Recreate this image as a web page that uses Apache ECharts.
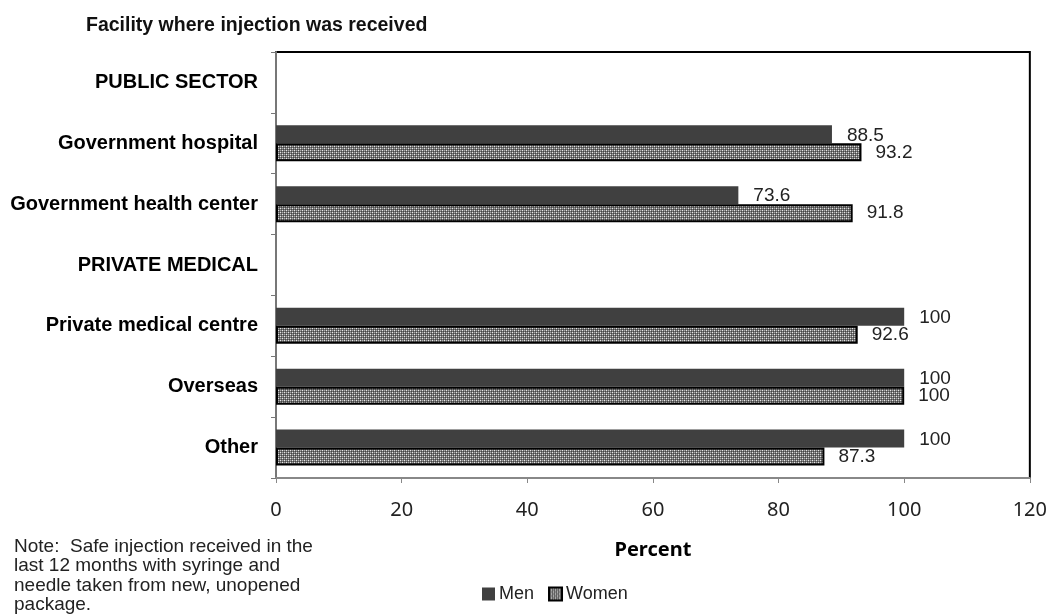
<!DOCTYPE html>
<html><head><meta charset="utf-8">
<script src="https://cdn.jsdelivr.net/npm/echarts@6/dist/echarts.min.js"></script>
<style>html,body{margin:0;padding:0;background:#fff}#c{width:1050px;height:615px}</style>
</head><body><div id="c"></div>
<script>
var categories = ['PUBLIC SECTOR','Government hospital','Government health center','PRIVATE MEDICAL','Private medical centre','Overseas','Other'];
var men = [null, 88.5, 73.6, null, 100, 100, 100];
var women = [null, 93.2, 91.8, null, 92.6, 100, 87.3];
var xTicks = [0, 20, 40, 60, 80, 100, 120];
var seriesNames = ['Men', 'Women'];
var titleText = 'Facility where injection was received';
var noteText = 'Note:  Safe injection received in the\nlast 12 months with syringe and\nneedle taken from new, unopened\npackage.';
var axisName = 'Percent';

function makePattern(){
  var c = document.createElement('canvas'); c.width = 4; c.height = 4;
  var ctx = c.getContext('2d');
  var W='#e6e6e6', G='#737373', L='#ababab', D='#454545';
  var m = [[W,G,L,G],[G,D,G,D],[L,G,W,G],[G,D,G,D]];
  for (var y=0;y<4;y++) for (var x=0;x<4;x++){ctx.fillStyle=m[y][x];ctx.fillRect(x,y,1,1);}
  return c;
}
var pat = {image: makePattern(), repeat: 'repeat'};

var chart = echarts.init(document.getElementById('c'), null, {renderer:'canvas'});
chart.setOption({
  animation: false,
  backgroundColor: '#fff',
  title: [
    {text: titleText, left: 86, top: 16, padding: 0, textStyle:{fontFamily:'Liberation Sans', fontSize:19.5, fontWeight:'bold', color:'#111'}},
    {text: noteText, left: 14, top: 537, padding: 0, textStyle:{fontFamily:'Liberation Sans', fontSize:19, fontWeight:'normal', color:'#222', lineHeight:19.5}}
  ],
  grid: {left: 276, right: 19, top: 52, bottom: 137, show: true, borderColor: '#000', borderWidth: 2, backgroundColor: 'transparent'},
  legend: {
    data: seriesNames, left: 477, top: 580, itemWidth: 13, itemHeight: 13, itemGap: 14, icon: 'rect',
    textStyle: {fontFamily:'Liberation Sans', fontSize: 18, color:'#222', padding:[0,0,0,-1]}
  },
  xAxis: {
    type: 'value', min: 0, max: 120, interval: 20,
    name: axisName, nameLocation: 'middle', nameGap: 62,
    nameTextStyle: {fontFamily:'Noto Sans', fontSize: 20, fontWeight:'bold', color:'#000'},
    axisLine: {show: true, lineStyle:{color:'#888', width:2}},
    axisTick: {show: true, length: 5, lineStyle:{color:'#888'}},
    splitLine: {show: false},
    axisLabel: {fontFamily:'Noto Sans', fontSize: 20, color:'#222', margin: 22,
      formatter: function(v){ return xTicks.indexOf(v) >= 0 ? String(v) : ''; }}
  },
  yAxis: {
    type: 'category', data: categories, inverse: true,
    axisLine: {show: true, lineStyle:{color:'#777', width:2}},
    axisTick: {show: true, length: 5, lineStyle:{color:'#777'}},
    axisLabel: {fontFamily:'Liberation Sans', fontSize: 20, fontWeight:'bold', color:'#000', margin: 18}
  },
  series: [
    {name: seriesNames[0], type: 'bar', data: men, barWidth: 18, barGap: '0%',
     itemStyle: {color: '#404040'},
     label: {show: true, position: 'right', distance: 15, offset:[0,1], fontFamily:'Liberation Sans', fontSize: 19, color:'#222'}},
    {name: seriesNames[1], type: 'bar', data: women, barWidth: 18,
     itemStyle: {color: pat, borderColor: '#000', borderWidth: 2},
     label: {show: true, position: 'right', distance: 14, fontFamily:'Liberation Sans', fontSize: 19, color:'#222'}}
  ]
});
</script>
</body></html>
